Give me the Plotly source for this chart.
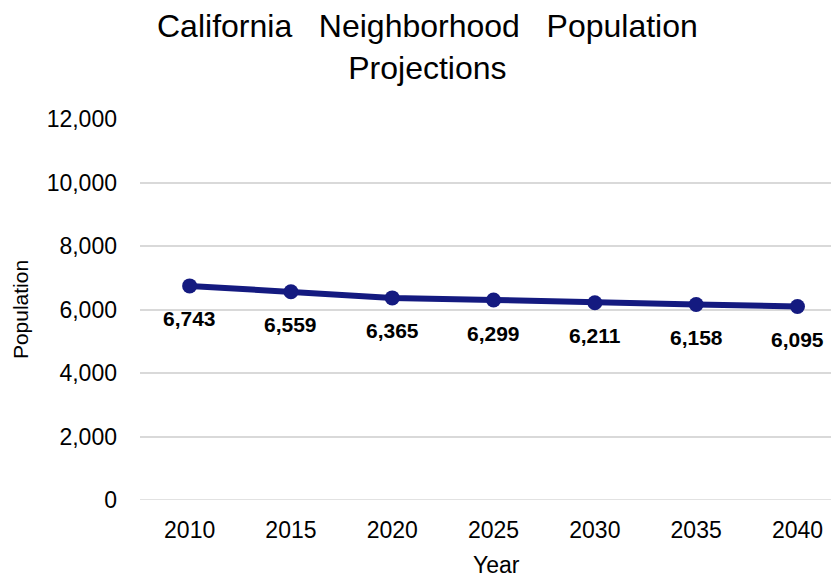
import plotly.graph_objects as go

years = ["2010", "2015", "2020", "2025", "2030", "2035", "2040"]
population = [6743, 6559, 6365, 6299, 6211, 6158, 6095]
y_ticks = [0, 2000, 4000, 6000, 8000, 10000, 12000]
y_tick_labels = ["0", "2,000", "4,000", "6,000", "8,000", "10,000", "12,000"]

FONT = "Liberation Sans, Arial, sans-serif"
LINE_COLOR = "#141a80"

fig = go.Figure()
fig.add_trace(go.Scatter(
    x=years, y=population, mode="lines+markers",
    line=dict(color=LINE_COLOR, width=6),
    marker=dict(color=LINE_COLOR, size=15),
    hoverinfo="skip", showlegend=False,
))

for i, val in enumerate(population):
    fig.add_annotation(
        x=i, y=val, xref="x", yref="y", text=f"<b>{val:,}</b>", showarrow=False,
        yshift=-33, xanchor="center", yanchor="middle",
        font=dict(family=FONT, size=21, color="#000000"),
    )

fig.add_annotation(
    text="California\u00a0\u00a0\u00a0Neighborhood\u00a0\u00a0\u00a0Population<br>Projections",
    xref="paper", yref="paper", x=(427 - 140) / 699, y=1 + (119 - 6) / 381,
    xanchor="center", yanchor="top", showarrow=False, align="center",
    font=dict(family=FONT, size=32, color="#000000"),
)

fig.add_annotation(
    text="Year", xref="paper", yref="paper",
    x=(496 - 140) / 699, y=-(565 - 500) / 381,
    xanchor="center", yanchor="middle", showarrow=False,
    font=dict(family=FONT, size=23, color="#000000"),
)

# page has an 8px body margin, so the figure is 8px smaller than the window
fig.update_layout(
    width=831, height=572,
    margin=dict(l=132, r=0, t=111, b=80, autoexpand=False),
    paper_bgcolor="white", plot_bgcolor="white",
    font=dict(family=FONT, color="#000000"),
    xaxis=dict(
        type="category", range=[-0.49, 6.41], automargin=False,
        showgrid=False, showline=False, zeroline=False, ticks="",
        tickfont=dict(family=FONT, size=23, color="#000000"),
        ticklabelstandoff=14,
    ),
    yaxis=dict(
        range=[0, 12000], tickvals=y_ticks, ticktext=y_tick_labels, automargin=False,
        showgrid=True, gridcolor="#d9d9d9", gridwidth=1.5,
        zeroline=False, showline=False, ticks="",
        tickfont=dict(family=FONT, size=23, color="#000000"),
        ticklabelstandoff=22,
        title=dict(text="Population", font=dict(family=FONT, size=21, color="#000000"), standoff=12),
    ),
)

fig.add_shape(type="line", xref="paper", yref="y", x0=0, x1=1, y0=0, y1=0,
              line=dict(color="#d9d9d9", width=1.5), layer="below")

fig.write_html("out.html")
